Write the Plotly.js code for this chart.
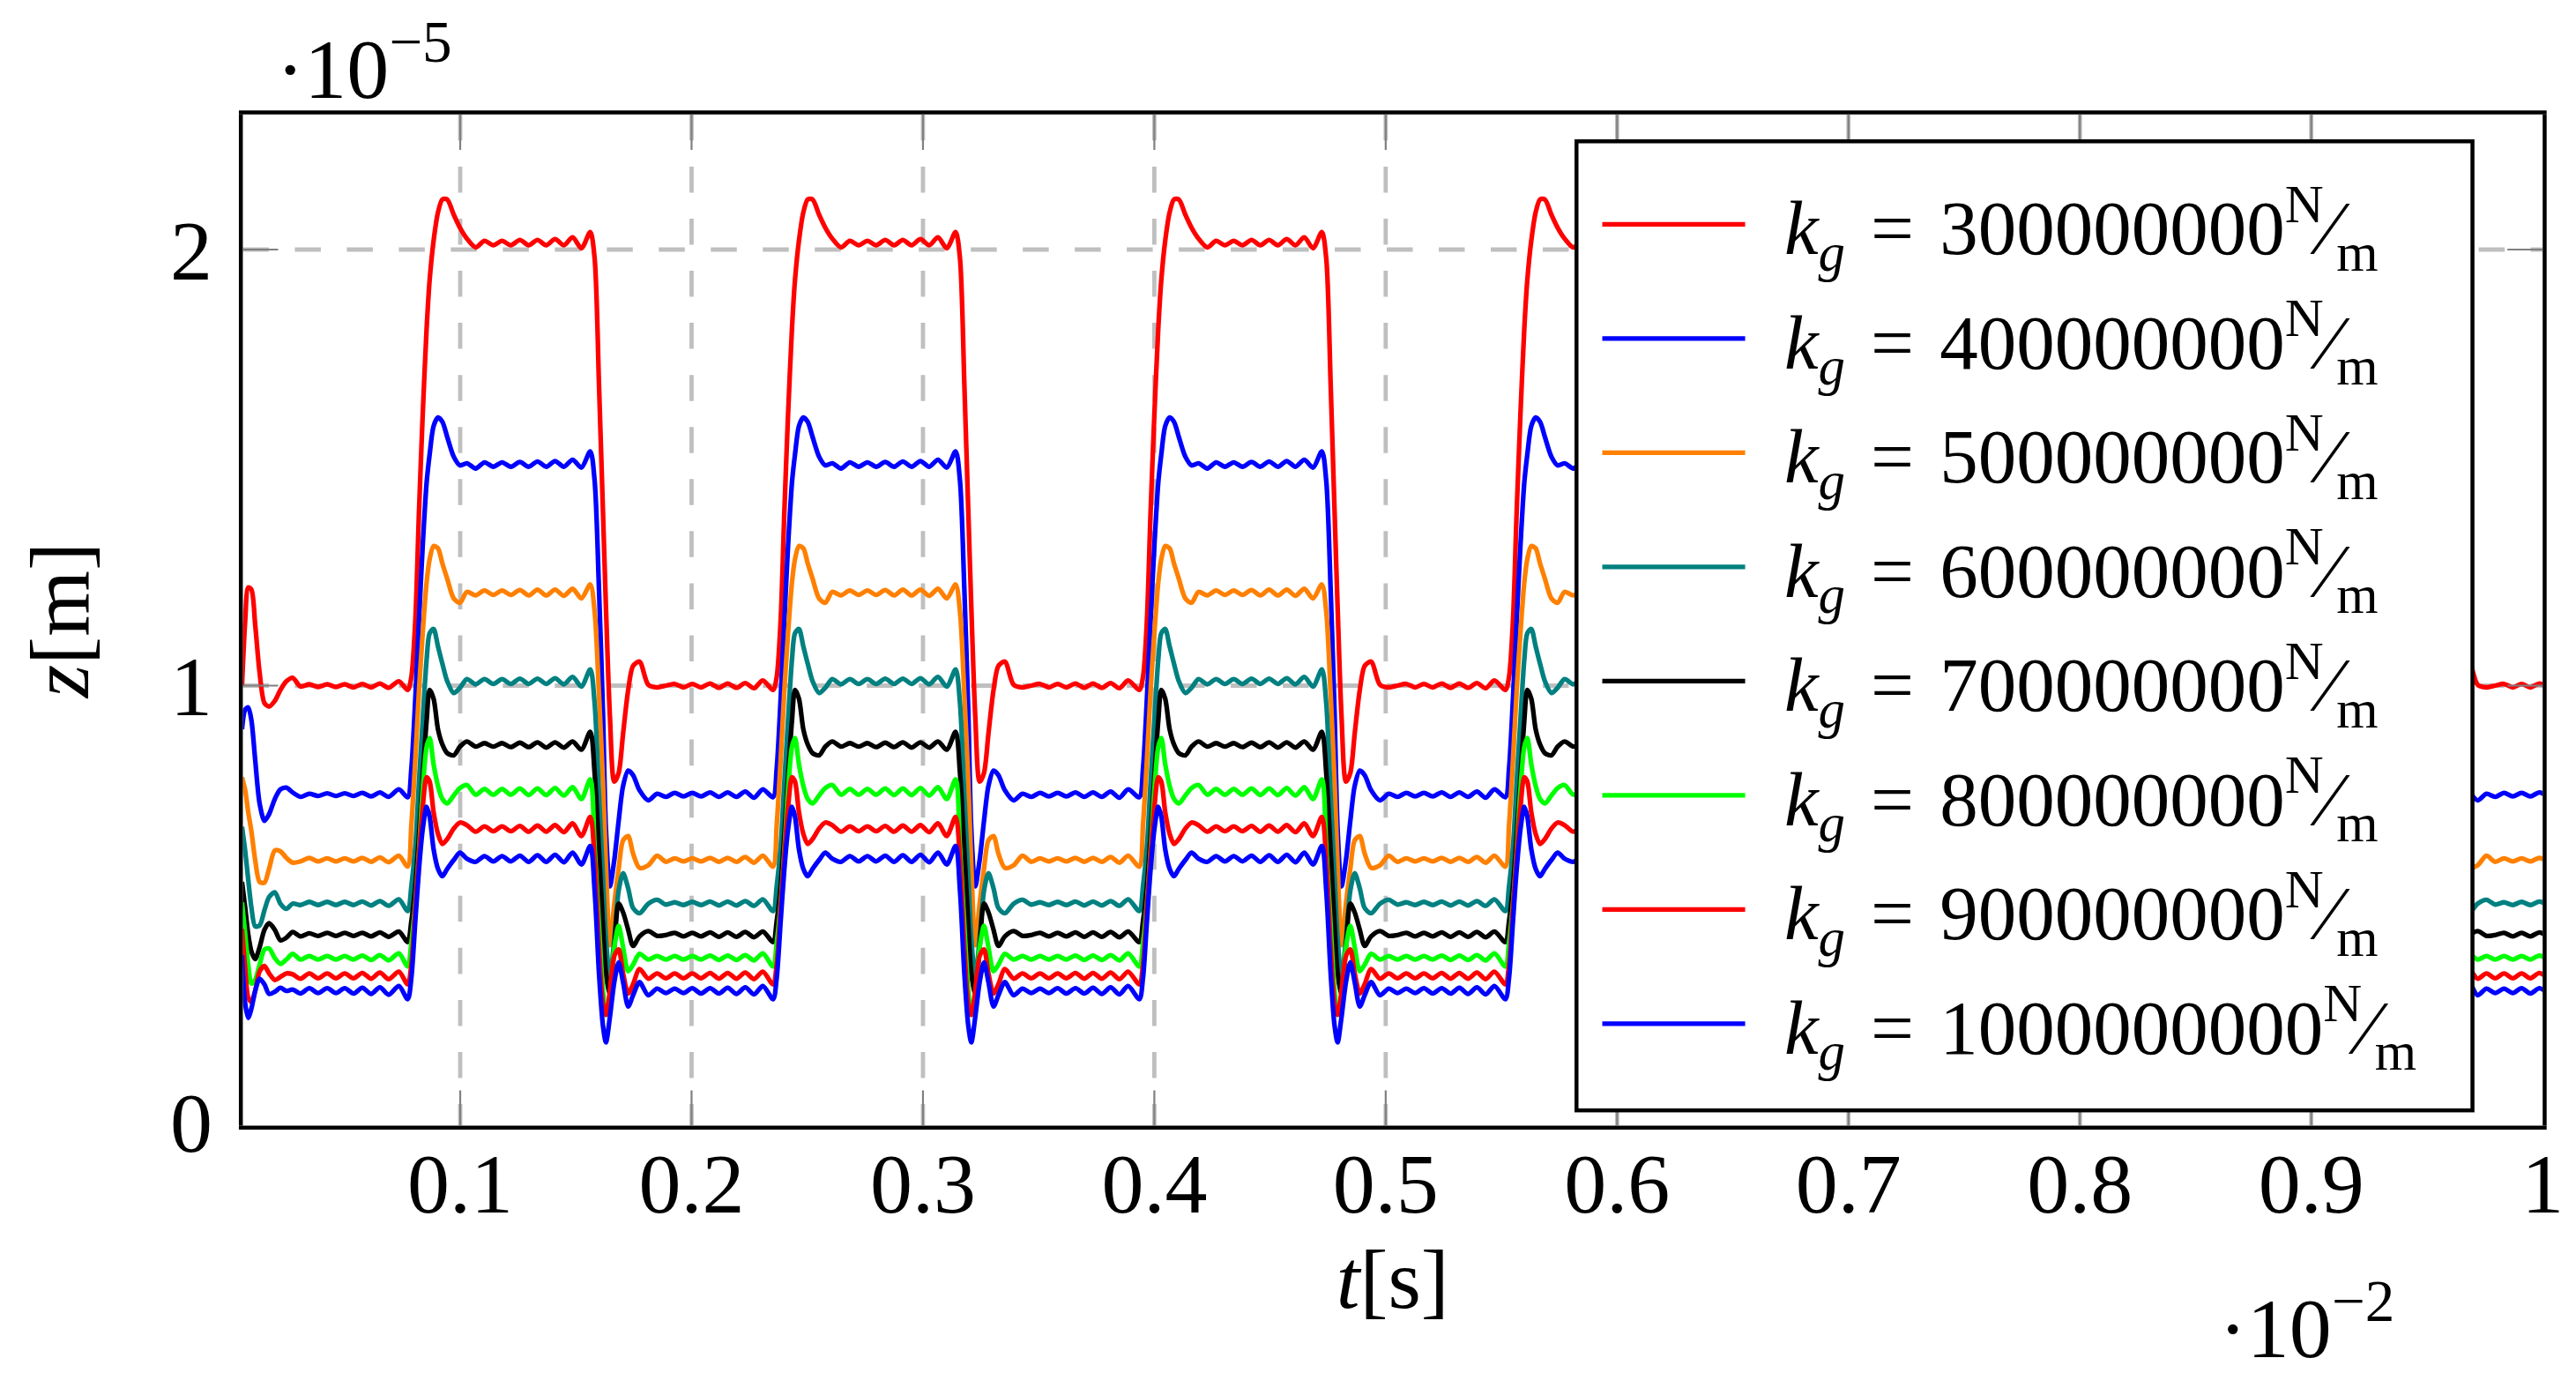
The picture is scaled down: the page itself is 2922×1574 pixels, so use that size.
<!DOCTYPE html>
<html>
<head>
<meta charset="utf-8">
<script src="https://cdn.plot.ly/plotly-3.0.1.min.js"></script>
<style>
html, body { margin: 0; padding: 0; background: #fff; width: 2922px; height: 1574px; overflow: hidden; }
#page { position: relative; width: 2922px; height: 1574px; overflow: hidden; background: #fff; }
#chart { position: absolute; left: 0; top: 0; transform-origin: 0 0; }
/* crisp edges snap the thin pre-scale strokes, keep them smooth instead */
#chart svg * { shape-rendering: geometricPrecision !important; }
</style>
</head>
<body>
<div id="page"><div id="chart"></div></div>
<script>
// time axis is in units of 1e-2 s, displacement in units of 1e-5 m

// start-up transient, before the first rising edge
const startT = [0.0057, 0.0071, 0.0084, 0.0098, 0.0114, 0.0133, 0.0154, 0.0174, 0.0199, 0.0223, 0.0249, 0.0276,
  0.0310, 0.0348, 0.0386, 0.0425, 0.0463, 0.0501, 0.0539, 0.0577, 0.0615, 0.0653, 0.0691, 0.0735];

// one load cycle (rise, high plateau, fall, low plateau), offsets from the cycle start
const cycleDt = [0, 0.0016, 0.0033, 0.0049, 0.0065, 0.0082, 0.0095, 0.0112, 0.0131, 0.0150, 0.0171, 0.0199,
  0.0226, 0.0256, 0.0294, 0.0332, 0.0370, 0.0408, 0.0446, 0.0485, 0.0523, 0.0561, 0.0599, 0.0637, 0.0675,
  0.0713, 0.0751, 0.0789,
  0.0808, 0.0827, 0.0844, 0.0857, 0.0874, 0.0893, 0.0912, 0.0931, 0.0953, 0.0974, 0.1002, 0.1040, 0.1078,
  0.1116, 0.1154, 0.1192, 0.1230, 0.1268, 0.1307, 0.1345, 0.1383, 0.1421, 0.1459, 0.1497, 0.1535];

// where each cycle starts
const cycleStarts = [0.0773, 0.2352, 0.3935, 0.5517, 0.7098, 0.8679];
const tEnd = 1.0;

const kLabels = ['300000000', '400000000', '500000000', '600000000', '700000000', '800000000', '900000000', '1000000000'];
const colors = ['#ff0000', '#0000ff', '#ff8000', '#008080', '#000000', '#00ff00', '#ff0000', '#0000ff'];

const start300 = [1.0, 1.15, 1.225, 1.22, 1.14, 1.03, 0.96, 0.952, 0.965, 0.99, 1.01, 1.018, 0.998, 1.003, 0.997, 1.003,
  0.997, 1.003, 0.996, 1.004, 0.996, 1.005, 0.995, 1.01];
const cycle300 = [0.99, 1.02, 1.15, 1.40, 1.62, 1.82, 1.93, 2.02, 2.085, 2.115, 2.115, 2.08, 2.05, 2.025, 2.005, 2.02,
  2.01, 2.02, 2.01, 2.022, 2.01, 2.022, 2.01, 2.024, 2.01, 2.028, 2.003, 2.04,
  1.98, 1.69, 1.40, 1.18, 0.93, 0.78, 0.80, 0.89, 0.99, 1.045, 1.055, 1.002, 0.996, 1.0, 1.004, 0.996, 1.004, 0.996,
  1.005, 0.995, 1.005, 0.995, 1.006, 0.994, 1.012];

const start400 = [0.90, 0.945, 0.95, 0.92, 0.83, 0.73, 0.69, 0.705, 0.74, 0.762, 0.766, 0.755, 0.745, 0.752, 0.747, 0.753,
  0.747, 0.753, 0.747, 0.754, 0.746, 0.755, 0.745, 0.762];
const cycle400 = [0.744, 0.81, 0.97, 1.15, 1.32, 1.466, 1.53, 1.595, 1.615, 1.605, 1.57, 1.525, 1.505, 1.51, 1.498, 1.512,
  1.502, 1.512, 1.502, 1.513, 1.502, 1.514, 1.502, 1.515, 1.502, 1.518, 1.5, 1.537,
  1.47, 1.22, 0.94, 0.67, 0.54, 0.60, 0.69, 0.77, 0.805, 0.795, 0.76, 0.737, 0.752, 0.745, 0.754, 0.746, 0.754, 0.746,
  0.755, 0.745, 0.755, 0.745, 0.757, 0.743, 0.762];

const start500 = [0.79, 0.76, 0.71, 0.665, 0.60, 0.55, 0.548, 0.58, 0.622, 0.62, 0.605, 0.594, 0.597, 0.605, 0.597, 0.604,
  0.597, 0.604, 0.597, 0.605, 0.596, 0.606, 0.595, 0.61];
const cycle500 = [0.585, 0.68, 0.83, 0.99, 1.12, 1.237, 1.29, 1.32, 1.315, 1.28, 1.245, 1.20, 1.19, 1.215, 1.207, 1.218,
  1.208, 1.218, 1.208, 1.219, 1.207, 1.22, 1.207, 1.22, 1.206, 1.222, 1.2, 1.232,
  1.17, 0.98, 0.78, 0.59, 0.405, 0.50, 0.58, 0.645, 0.655, 0.615, 0.582, 0.588, 0.61, 0.596, 0.604, 0.597, 0.604, 0.597,
  0.605, 0.596, 0.605, 0.596, 0.607, 0.594, 0.61];

const start600 = [0.676, 0.62, 0.555, 0.49, 0.448, 0.45, 0.485, 0.515, 0.526, 0.50, 0.488, 0.50, 0.497, 0.504, 0.497, 0.504,
  0.497, 0.504, 0.497, 0.505, 0.496, 0.506, 0.495, 0.51];
const cycle600 = [0.483, 0.54, 0.63, 0.78, 0.92, 1.06, 1.12, 1.13, 1.09, 1.05, 1.01, 0.983, 0.995, 1.015, 1.003, 1.015,
  1.004, 1.015, 1.004, 1.016, 1.004, 1.016, 1.004, 1.017, 1.003, 1.02, 0.998, 1.037,
  0.96, 0.75, 0.56, 0.42, 0.33, 0.42, 0.53, 0.57, 0.535, 0.49, 0.478, 0.50, 0.509, 0.498, 0.503, 0.497, 0.504, 0.497,
  0.505, 0.496, 0.505, 0.496, 0.506, 0.495, 0.51];

const start700 = [0.55, 0.49, 0.43, 0.39, 0.373, 0.40, 0.44, 0.455, 0.44, 0.416, 0.422, 0.435, 0.425, 0.432, 0.426, 0.433,
  0.426, 0.433, 0.426, 0.433, 0.425, 0.434, 0.424, 0.436];
const cycle700 = [0.412, 0.46, 0.54, 0.66, 0.79, 0.92, 0.99, 0.97, 0.90, 0.865, 0.845, 0.84, 0.86, 0.872, 0.86, 0.868,
  0.86, 0.868, 0.859, 0.869, 0.859, 0.87, 0.858, 0.87, 0.858, 0.872, 0.853, 0.894,
  0.80, 0.62, 0.45, 0.34, 0.29, 0.40, 0.50, 0.48, 0.44, 0.403, 0.425, 0.437, 0.426, 0.428, 0.433, 0.425, 0.433, 0.425,
  0.434, 0.424, 0.434, 0.424, 0.435, 0.423, 0.436];

const start800 = [0.503, 0.43, 0.36, 0.317, 0.325, 0.36, 0.395, 0.397, 0.375, 0.362, 0.372, 0.385, 0.372, 0.38, 0.372, 0.38,
  0.372, 0.38, 0.372, 0.381, 0.371, 0.382, 0.37, 0.386];
const cycle800 = [0.356, 0.41, 0.50, 0.62, 0.76, 0.86, 0.88, 0.82, 0.77, 0.74, 0.73, 0.748, 0.765, 0.772, 0.75, 0.763,
  0.75, 0.763, 0.75, 0.764, 0.749, 0.764, 0.749, 0.765, 0.748, 0.767, 0.74, 0.785,
  0.63, 0.45, 0.30, 0.245, 0.29, 0.40, 0.449, 0.40, 0.345, 0.36, 0.385, 0.372, 0.38, 0.372, 0.38, 0.372, 0.38, 0.372,
  0.381, 0.371, 0.381, 0.371, 0.382, 0.37, 0.386];

const start900 = [0.442, 0.35, 0.285, 0.275, 0.30, 0.345, 0.357, 0.34, 0.325, 0.332, 0.34, 0.338, 0.328, 0.34, 0.329, 0.34,
  0.329, 0.34, 0.329, 0.341, 0.328, 0.342, 0.327, 0.344];
const cycle900 = [0.315, 0.36, 0.49, 0.61, 0.72, 0.79, 0.78, 0.71, 0.66, 0.637, 0.648, 0.672, 0.686, 0.68, 0.665, 0.677,
  0.666, 0.677, 0.666, 0.678, 0.665, 0.679, 0.665, 0.68, 0.664, 0.684, 0.655, 0.699,
  0.60, 0.40, 0.27, 0.245, 0.30, 0.38, 0.395, 0.34, 0.294, 0.315, 0.35, 0.328, 0.34, 0.329, 0.34, 0.329, 0.34, 0.329,
  0.341, 0.328, 0.341, 0.328, 0.342, 0.327, 0.344];

const start1000 = [0.382, 0.27, 0.238, 0.26, 0.30, 0.328, 0.315, 0.293, 0.298, 0.307, 0.30, 0.303, 0.294, 0.306, 0.295, 0.306,
  0.295, 0.306, 0.294, 0.307, 0.293, 0.308, 0.291, 0.311];
const cycle1000 = [0.281, 0.33, 0.46, 0.58, 0.67, 0.722, 0.70, 0.625, 0.58, 0.563, 0.58, 0.60, 0.617, 0.603, 0.596, 0.609,
  0.597, 0.609, 0.597, 0.61, 0.596, 0.611, 0.596, 0.612, 0.595, 0.617, 0.59, 0.632,
  0.53, 0.34, 0.22, 0.182, 0.24, 0.32, 0.365, 0.32, 0.264, 0.29, 0.32, 0.29, 0.305, 0.295, 0.305, 0.295, 0.306, 0.294,
  0.306, 0.294, 0.307, 0.293, 0.308, 0.292, 0.311];

const starts = [start300, start400, start500, start600, start700, start800, start900, start1000];
const cycles = [cycle300, cycle400, cycle500, cycle600, cycle700, cycle800, cycle900, cycle1000];

// the page is laid out small and scaled up, so that legend sample lines come out long
const S = 5.4;
const W = 2922, H = 1574;
const wL = Math.round(W / S), hL = Math.round(H / S);
const sx = W / wL, sy = H / hL;
const px = v => v / S;
const FONT = 'Liberation Serif, DejaVu Serif, serif';

// plot frame and gridline positions on the page, in page pixels
const frameL = 275.3, frameR = 2884.3, frameT = 127.3, frameB = 1277.7;
const mL = Math.round(frameL / sx), mR = Math.round((W - frameR) / sx);
const mT = Math.round(frameT / sy), mB = Math.round((H - frameB) / sy);
const L = mL * sx, R = W - mR * sx, T = mT * sy, B = H - mB * sy;
const y0Pix = 1272, y2Pix = 283, x01Pix = 522, x09Pix = 2621.7;
const yPer = (y0Pix - y2Pix) / 2, xPer = (x09Pix - x01Pix) / 0.8;
const yRange = [-(B - y0Pix) / yPer, 2 + (y2Pix - T) / yPer];
const xRange = [0.1 - (x01Pix - L) / xPer, 0.9 + (R - x09Pix) / xPer];
const paperX = x => (x - L) / (R - L);
const paperY = y => (B - y) / (B - T);

// lay the measured cycle down at every cycle start
buildSeries = (startVals, cycleVals) => {
  var t = [], z = [];
  startT.forEach((tt, i) => { t.push(tt); z.push(startVals[i]); });
  cycleStarts.forEach(t0 => {
    cycleDt.forEach((dt, i) => {
      var tt = +(t0 + dt).toFixed(4);
      if (tt <= tEnd + 0.005) { t.push(tt); z.push(cycleVals[i]); }
    });
  });
  return {t, z};
}

var data = kLabels.map((k, i) => {
  var s = buildSeries(starts[i], cycles[i]);
  return {
    x: s.t,
    y: s.z,
    type: 'scatter',
    mode: 'lines',
    // wide spaces stand in for the math spacing of the original legend
    name: '\u2009<i>k</i><sub><i>g</i></sub>\u2004=\u2004' + k + '<sup>N</sup>\u2044<sub>m</sub>\u2004',
    line: {color: colors[i], width: px(5.3), shape: 'spline', smoothing: 0.8}
  };
});

var gridDash = px(29.5).toFixed(2) + 'px,' + px(29.5).toFixed(2) + 'px';

var axisCommon = {
  showline: true,
  linecolor: '#000',
  linewidth: px(4.5),
  mirror: 'ticks',
  ticks: 'inside',
  ticklen: px(40),
  tickwidth: px(2.2),
  tickcolor: '#808080',
  showgrid: true,
  gridcolor: '#bfbfbf',
  gridwidth: px(4.8),
  griddash: gridDash,
  zeroline: false,
  tickfont: {family: FONT, size: px(96), color: '#000'}
};

var layout = {
  width: wL,
  height: hL,
  margin: {l: mL, r: mR, t: mT, b: mB, pad: 0},
  paper_bgcolor: '#fff',
  plot_bgcolor: '#fff',
  font: {family: FONT, size: px(96), color: '#000'},
  showlegend: true,
  xaxis: Object.assign({}, axisCommon, {
    range: xRange,
    tickvals: [0.1, 0.2, 0.3, 0.4, 0.5, 0.6, 0.7, 0.8, 0.9, 1],
    ticktext: ['0.1', '0.2', '0.3', '0.4', '0.5', '0.6', '0.7', '0.8', '0.9', '1'],
    ticklabelstandoff: -4,
    title: {text: '<i>t</i>[s]', font: {family: FONT, size: px(96)}, standoff: px(8)}
  }),
  yaxis: Object.assign({}, axisCommon, {
    range: yRange,
    tickvals: [0, 1, 2],
    ticktext: ['0', '1', '2'],
    ticklabelstandoff: 2,
    title: {text: '<i>z</i>[m]', font: {family: FONT, size: px(96)}, standoff: px(62)}
  }),
  legend: {
    x: paperX(1786), xanchor: 'left',
    y: paperY(158), yanchor: 'top',
    bgcolor: '#fff',
    bordercolor: '#000',
    borderwidth: px(4.5),
    font: {family: FONT, size: px(87), color: '#000'},
    tracegroupgap: 0
  },
  annotations: [
    {text: '\u00b710<sup>\u22125</sup>', xref: 'paper', yref: 'paper', x: paperX(414), y: paperY(68),
      xanchor: 'center', yanchor: 'middle', showarrow: false, font: {family: FONT, size: px(96)}},
    {text: '\u00b710<sup>\u22122</sup>', xref: 'paper', yref: 'paper', x: paperX(2616), y: paperY(1500),
      xanchor: 'center', yanchor: 'middle', showarrow: false, font: {family: FONT, size: px(96)}}
  ]
};

var el = document.getElementById('chart');
el.style.width = wL + 'px';
el.style.height = hL + 'px';
el.style.transform = 'scale(' + sx + ',' + sy + ')';

Plotly.newPlot(el, data, layout, {staticPlot: true, displayModeBar: false});
</script>
</body>
</html>
